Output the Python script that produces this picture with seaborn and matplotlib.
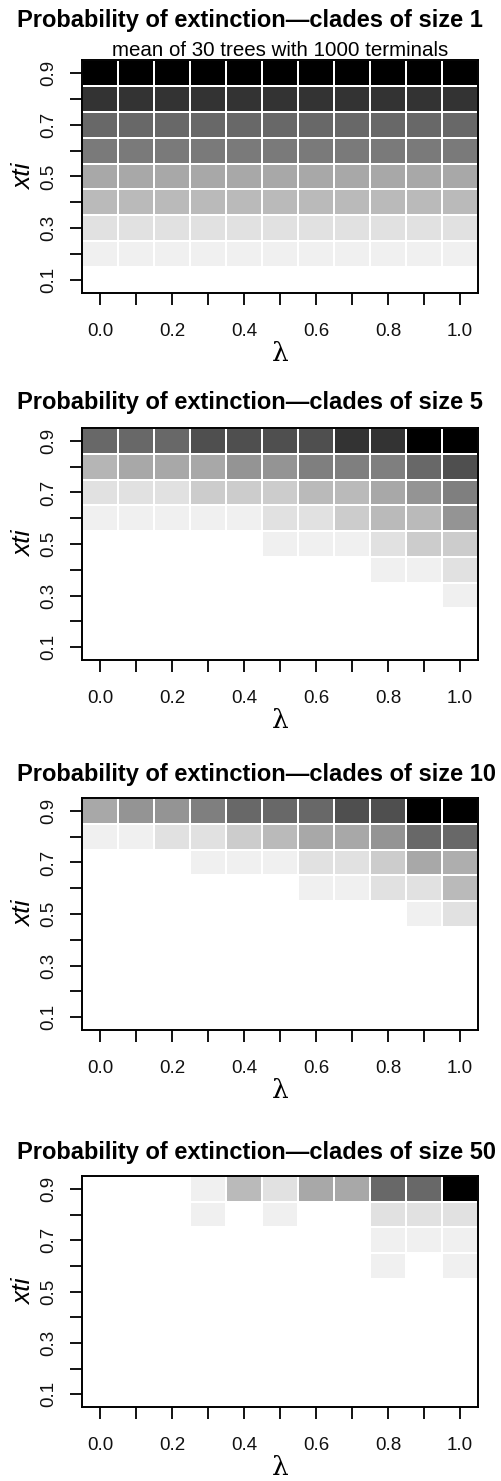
import numpy as np
import pandas as pd
import matplotlib
matplotlib.use("Agg")
import matplotlib.pyplot as plt
from matplotlib.colors import LinearSegmentedColormap
import seaborn as sns

sns.set_theme(style="white")
plt.rcParams["font.family"] = ["Liberation Sans", "DejaVu Sans"]
plt.rcParams["text.color"] = "black"
plt.rcParams["axes.labelcolor"] = "black"

# Speciation bias (columns) and extinction threshold (rows, top to bottom)
lambdas = [0.0, 0.1, 0.2, 0.3, 0.4, 0.5, 0.6, 0.7, 0.8, 0.9, 1.0]
xti_levels = [0.9, 0.8, 0.7, 0.6, 0.5, 0.4, 0.3, 0.2, 0.1]

lambda_labels = ["0.0", "", "0.2", "", "0.4", "", "0.6", "", "0.8", "", "1.0"]
xti_labels = ["0.9", "", "0.7", "", "0.5", "", "0.3", "", "0.1"]

# Probability of extinction, one matrix per clade size
ext_size1 = [
    [1.00, 1.00, 1.00, 1.00, 1.00, 1.00, 1.00, 1.00, 1.00, 1.00, 1.00],
    [0.80, 0.80, 0.80, 0.80, 0.80, 0.80, 0.80, 0.80, 0.80, 0.80, 0.80],
    [0.59, 0.59, 0.59, 0.59, 0.59, 0.59, 0.59, 0.59, 0.59, 0.59, 0.59],
    [0.52, 0.52, 0.52, 0.52, 0.52, 0.52, 0.52, 0.52, 0.52, 0.52, 0.52],
    [0.34, 0.34, 0.34, 0.34, 0.34, 0.34, 0.34, 0.34, 0.34, 0.34, 0.34],
    [0.27, 0.27, 0.27, 0.27, 0.27, 0.27, 0.27, 0.27, 0.27, 0.27, 0.27],
    [0.12, 0.12, 0.12, 0.12, 0.12, 0.12, 0.12, 0.12, 0.12, 0.12, 0.12],
    [0.06, 0.06, 0.06, 0.06, 0.06, 0.06, 0.06, 0.06, 0.06, 0.06, 0.06],
    [0.00, 0.00, 0.00, 0.00, 0.00, 0.00, 0.00, 0.00, 0.00, 0.00, 0.00],
]

ext_size5 = [
    [0.59, 0.59, 0.59, 0.69, 0.69, 0.69, 0.69, 0.80, 0.80, 1.00, 1.00],
    [0.29, 0.34, 0.34, 0.34, 0.42, 0.42, 0.50, 0.50, 0.50, 0.59, 0.69],
    [0.12, 0.12, 0.12, 0.20, 0.20, 0.20, 0.27, 0.27, 0.34, 0.42, 0.50],
    [0.06, 0.06, 0.06, 0.06, 0.06, 0.12, 0.12, 0.20, 0.27, 0.27, 0.42],
    [0.00, 0.00, 0.00, 0.00, 0.00, 0.06, 0.06, 0.06, 0.12, 0.20, 0.20],
    [0.00, 0.00, 0.00, 0.00, 0.00, 0.00, 0.00, 0.00, 0.06, 0.06, 0.12],
    [0.00, 0.00, 0.00, 0.00, 0.00, 0.00, 0.00, 0.00, 0.00, 0.00, 0.06],
    [0.00, 0.00, 0.00, 0.00, 0.00, 0.00, 0.00, 0.00, 0.00, 0.00, 0.00],
    [0.00, 0.00, 0.00, 0.00, 0.00, 0.00, 0.00, 0.00, 0.00, 0.00, 0.00],
]

ext_size10 = [
    [0.34, 0.42, 0.42, 0.50, 0.59, 0.59, 0.59, 0.69, 0.69, 1.00, 1.00],
    [0.06, 0.06, 0.12, 0.12, 0.20, 0.27, 0.34, 0.34, 0.42, 0.59, 0.59],
    [0.00, 0.00, 0.00, 0.06, 0.06, 0.06, 0.12, 0.12, 0.20, 0.34, 0.32],
    [0.00, 0.00, 0.00, 0.00, 0.00, 0.00, 0.06, 0.06, 0.12, 0.12, 0.27],
    [0.00, 0.00, 0.00, 0.00, 0.00, 0.00, 0.00, 0.00, 0.00, 0.06, 0.12],
    [0.00, 0.00, 0.00, 0.00, 0.00, 0.00, 0.00, 0.00, 0.00, 0.00, 0.00],
    [0.00, 0.00, 0.00, 0.00, 0.00, 0.00, 0.00, 0.00, 0.00, 0.00, 0.00],
    [0.00, 0.00, 0.00, 0.00, 0.00, 0.00, 0.00, 0.00, 0.00, 0.00, 0.00],
    [0.00, 0.00, 0.00, 0.00, 0.00, 0.00, 0.00, 0.00, 0.00, 0.00, 0.00],
]

ext_size50 = [
    [0.00, 0.00, 0.00, 0.06, 0.27, 0.12, 0.34, 0.34, 0.59, 0.59, 1.00],
    [0.00, 0.00, 0.00, 0.06, 0.00, 0.06, 0.00, 0.00, 0.12, 0.12, 0.12],
    [0.00, 0.00, 0.00, 0.00, 0.00, 0.00, 0.00, 0.00, 0.06, 0.06, 0.06],
    [0.00, 0.00, 0.00, 0.00, 0.00, 0.00, 0.00, 0.00, 0.06, 0.00, 0.06],
    [0.00, 0.00, 0.00, 0.00, 0.00, 0.00, 0.00, 0.00, 0.00, 0.00, 0.00],
    [0.00, 0.00, 0.00, 0.00, 0.00, 0.00, 0.00, 0.00, 0.00, 0.00, 0.00],
    [0.00, 0.00, 0.00, 0.00, 0.00, 0.00, 0.00, 0.00, 0.00, 0.00, 0.00],
    [0.00, 0.00, 0.00, 0.00, 0.00, 0.00, 0.00, 0.00, 0.00, 0.00, 0.00],
    [0.00, 0.00, 0.00, 0.00, 0.00, 0.00, 0.00, 0.00, 0.00, 0.00, 0.00],
]

clade_sizes = [1, 5, 10, 50]
panels = [ext_size1, ext_size5, ext_size10, ext_size50]

W, H = 502, 1481
fig = plt.figure(figsize=(W / 100, H / 100), dpi=100)

# axes boxes in pixels: (top, bottom) and the title centre line
boxes = [(60, 293), (428, 660), (798, 1030), (1176, 1407)]
title_y = [20, 403, 775, 1153]
left_px, right_px = 82, 478

gray_cmap = LinearSegmentedColormap.from_list("wb", ["#ffffff", "#000000"])

for size, mat, (top, bot), ty in zip(clade_sizes, panels, boxes, title_y):
    ax = fig.add_axes([left_px / W, 1 - bot / H, (right_px - left_px) / W, (bot - top) / H])
    df = pd.DataFrame(mat, index=xti_levels, columns=lambdas)
    sns.heatmap(df, ax=ax, cmap=gray_cmap, vmin=0, vmax=1, cbar=False,
                linewidths=1.1, linecolor="white",
                xticklabels=lambda_labels, yticklabels=xti_labels)
    for sp in ax.spines.values():
        sp.set_visible(True)
        sp.set_color("black")
        sp.set_linewidth(1.4)
    ax.tick_params(axis="both", direction="out", length=8.6, width=1.3,
                   color="black", labelsize=13.5, labelcolor="#111111",
                   bottom=True, left=True)
    ax.tick_params(axis="x", pad=13)
    ax.tick_params(axis="y", pad=9)
    plt.setp(ax.get_xticklabels(), rotation=0)
    plt.setp(ax.get_yticklabels(), rotation=90, va="center")
    ax.set_xlabel("λ", family=["DejaVu Serif"], fontsize=19, labelpad=1)
    ax.set_ylabel("xti", style="italic", fontsize=19, labelpad=3)
    fig.text(17 / W, 1 - ty / H, f"Probability of extinction—clades of size {size}",
             ha="left", va="center", fontsize=17, fontweight="bold", color="black")

fig.text(280 / W, 1 - 50 / H, "mean of 30 trees with 1000 terminals",
         ha="center", va="center", fontsize=14.8, color="black")

fig.savefig("out.png", dpi=100, facecolor="white")
